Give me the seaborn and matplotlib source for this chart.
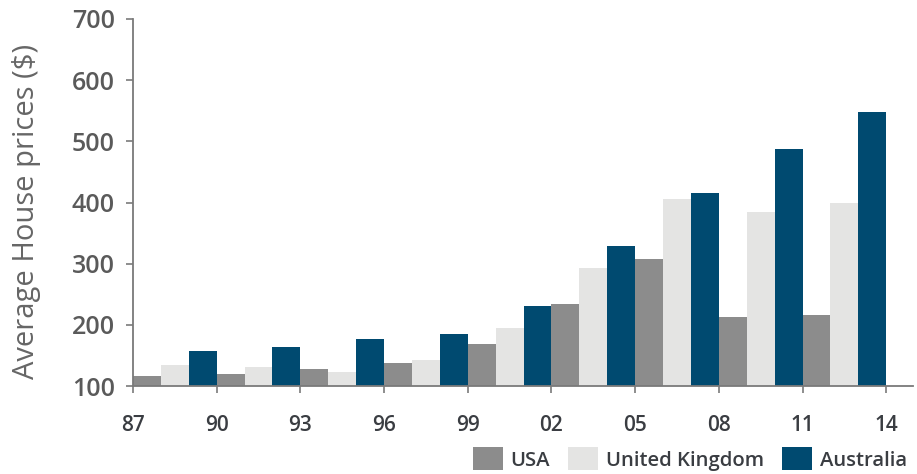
import numpy as np
import pandas as pd
import matplotlib
matplotlib.use("Agg")
import matplotlib.pyplot as plt
import seaborn as sns

# Year marks on the x axis (groups sit between consecutive marks)
year_labels = ["87", "90", "93", "96", "99", "02", "05", "08", "11", "14"]
periods = ["87-90", "90-93", "93-96", "96-99", "99-02", "02-05", "05-08", "08-11", "11-14"]

# Average house prices per period
usa = [116, 120, 128, 138, 169, 234, 308, 213, 216]
united_kingdom = [134, 131, 123, 142, 195, 293, 406, 384, 399]
australia = [157, 164, 177, 185, 231, 329, 415, 487, 548]

countries = ["USA", "United Kingdom", "Australia"]
palette = {"USA": "#8c8c8c", "United Kingdom": "#e4e4e3", "Australia": "#004a70"}

df = pd.DataFrame({
    "period": periods * 3,
    "country": ["USA"] * 9 + ["United Kingdom"] * 9 + ["Australia"] * 9,
    "price": usa + united_kingdom + australia,
})

sns.set_style("ticks")
plt.rcParams["font.family"] = ["Open Sans", "DejaVu Sans"]

fig = plt.figure(figsize=(9.17, 4.74), dpi=100)
ax = fig.add_axes([133 / 917, 1 - 386 / 474, 780 / 917, 367 / 474])

sns.barplot(data=df, x="period", y="price", hue="country", order=periods,
            hue_order=countries, palette=palette, width=1.0, gap=0,
            saturation=1, linewidth=0, ax=ax, legend=True, errorbar=None)

# bars stand on the 100 baseline
for p in ax.patches:
    h = p.get_height()
    if h > 0:
        p.set_y(100)
        p.set_height(h - 100)

ax.set_ylim(100, 700)
ax.set_xlim(-0.5, 8.82)
ax.set_yticks(np.arange(100, 701, 100))
ax.set_xticks(np.arange(-0.5, 9.0, 1.0))
ax.set_xticklabels(year_labels)

axis_color = "#7a7a7a"
for s in ["top", "right"]:
    ax.spines[s].set_visible(False)
for s in ["left", "bottom"]:
    ax.spines[s].set_color(axis_color)
    ax.spines[s].set_linewidth(1.3)

ax.tick_params(axis="y", length=5, width=1.2, color=axis_color, pad=8,
               labelsize=18, labelcolor="#5a5a5a")
ax.tick_params(axis="x", length=5, width=1.2, color=axis_color, pad=16,
               labelsize=15, labelcolor="#3a3d42")
for lab in ax.get_yticklabels() + ax.get_xticklabels():
    lab.set_fontweight("semibold")

ax.set_xlabel("")
ax.set_ylabel("Average House prices ($)", fontsize=21, color="#666666")
ax.yaxis.set_label_coords(-0.118, 0.475)

handles, labels = ax.get_legend_handles_labels()
ax.get_legend().remove()
leg = fig.legend(handles, labels, loc="center right",
                 bbox_to_anchor=(907 / 917, 1 - 459 / 474), ncol=3, frameon=False,
                 fontsize=14.6, handlelength=1.45, handleheight=1.35,
                 handletextpad=0.4, columnspacing=0.9, borderpad=0, borderaxespad=0)
for t in leg.get_texts():
    t.set_color("#3a3d42")
    t.set_fontweight("semibold")

fig.savefig("out.png", dpi=100)
